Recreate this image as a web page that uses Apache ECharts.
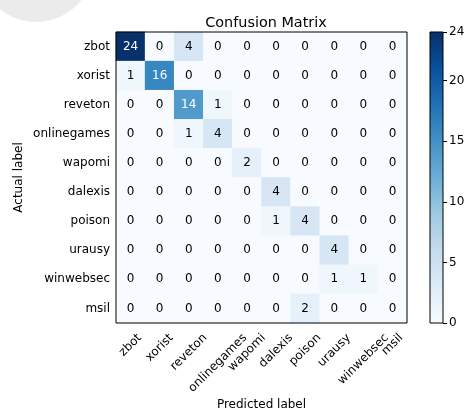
<!DOCTYPE html>
<html>
<head>
<meta charset="utf-8">
<script src="https://cdn.jsdelivr.net/npm/echarts@6/dist/echarts.min.js"></script>
<style>
  html, body { margin: 0; padding: 0; background: #fff; }
  #cm { width: 471px; height: 412px; }
</style>
</head>
<body>
<div id="cm"></div>
<script>
// labels, same order on both axes
var classes = ['zbot', 'xorist', 'reveton', 'onlinegames', 'wapomi', 'dalexis', 'poison', 'urausy', 'winwebsec', 'msil'];

// one row per actual label
var matrix = [
  [24, 0, 4, 0, 0, 0, 0, 0, 0, 0],
  [1, 16, 0, 0, 0, 0, 0, 0, 0, 0],
  [0, 0, 14, 1, 0, 0, 0, 0, 0, 0],
  [0, 0, 1, 4, 0, 0, 0, 0, 0, 0],
  [0, 0, 0, 0, 2, 0, 0, 0, 0, 0],
  [0, 0, 0, 0, 0, 4, 0, 0, 0, 0],
  [0, 0, 0, 0, 0, 1, 4, 0, 0, 0],
  [0, 0, 0, 0, 0, 0, 0, 4, 0, 0],
  [0, 0, 0, 0, 0, 0, 0, 1, 1, 0],
  [0, 0, 0, 0, 0, 0, 2, 0, 0, 0]
];

var colorbarMax = [24];

// matplotlib Blues
var blues = ['#f7fbff', '#deebf7', '#c6dbef', '#9ecae1', '#6baed6', '#4292c6', '#2171b5', '#08519c', '#08306b'];

var vmax = 24;
var heatData = [];
for (var i = 0; i < matrix.length; i++) {
  for (var j = 0; j < matrix[i].length; j++) {
    heatData.push({
      value: [j, i, matrix[i][j]],
      label: { color: matrix[i][j] > vmax / 2 ? '#fff' : '#000' }
    });
  }
}

var stops = blues.map(function (c, k) {
  return { offset: 1 - k / (blues.length - 1), color: c };
});

var font = 'DejaVu Sans';
var chart = echarts.init(document.getElementById('cm'));

var option = {
  animation: false,
  textStyle: { fontFamily: font },
  title: {
    text: 'Confusion Matrix',
    left: 261, top: 11, textAlign: 'center',
    textStyle: { fontFamily: font, fontSize: 14.4, fontWeight: 'normal', color: '#000' }
  },
  grid: [
    { left: 116, top: 32, width: 291, height: 291, outerBoundsMode: 'none' },
    { left: 430, top: 32, width: 13, height: 291, outerBoundsMode: 'none' }
  ],
  xAxis: [
    {
      type: 'category', data: classes, gridIndex: 0,
      name: 'Predicted label', nameLocation: 'middle', nameGap: 76, nameMoveOverlap: false,
      nameTextStyle: { fontFamily: font, fontSize: 12, color: '#000' },
      axisLine: { show: false },
      axisTick: { alignWithLabel: true, length: 4, lineStyle: { color: '#000' } },
      // drawn below, centred under each tick like matplotlib does
      axisLabel: { show: false },
      splitLine: { show: false }
    },
    {
      type: 'category', data: ['cb'], gridIndex: 1, show: false
    }
  ],
  yAxis: [
    {
      type: 'category', data: classes, gridIndex: 0, inverse: true,
      name: 'Actual label', nameLocation: 'middle', nameGap: 91, nameMoveOverlap: false,
      nameTextStyle: { fontFamily: font, fontSize: 12, color: '#000' },
      axisLine: { show: false },
      axisTick: { alignWithLabel: true, length: 4, lineStyle: { color: '#000' } },
      axisLabel: { interval: 0, fontFamily: font, fontSize: 12, color: '#000', margin: 6 },
      splitLine: { show: false }
    },
    {
      type: 'value', gridIndex: 1, position: 'right', min: 0, max: vmax, interval: 5,
      axisLine: { show: false },
      axisTick: { show: true, length: 4, lineStyle: { color: '#000' } },
      axisLabel: { fontFamily: font, fontSize: 12, color: '#000', margin: 6 },
      splitLine: { show: false }
    }
  ],
  visualMap: {
    show: false, seriesIndex: 0, min: 0, max: vmax,
    inRange: { color: blues }
  },
  graphic: [
    { type: 'circle', shape: { cx: 36, cy: -36, r: 58 }, style: { fill: '#ebebeb' }, z: -1 },
    { type: 'rect', shape: { x: 116, y: 32, width: 291, height: 291 }, style: { fill: null, stroke: '#000', lineWidth: 1 }, z: 100 },
    { type: 'rect', shape: { x: 430, y: 32, width: 13, height: 291 }, style: { fill: null, stroke: '#000', lineWidth: 1 }, z: 100 }
  ],
  series: [
    {
      type: 'heatmap', xAxisIndex: 0, yAxisIndex: 0,
      data: heatData,
      label: { show: true, fontFamily: font, fontSize: 12 },
      itemStyle: { borderWidth: 0 },
      emphasis: { disabled: true }
    },
    {
      type: 'bar', xAxisIndex: 1, yAxisIndex: 1,
      data: colorbarMax, barWidth: '100%', silent: true,
      itemStyle: { color: new echarts.graphic.LinearGradient(0, 0, 0, 1, stops) }
    }
  ]
};

chart.setOption(option);

// rotated x tick labels: bounding box centred on the tick, top just under the axis
var ctx = document.createElement('canvas').getContext('2d');
ctx.font = '12px "DejaVu Sans"';
var axisBottom = chart.convertToPixel({ yAxisIndex: 0 }, classes[classes.length - 1]) + 14.55;
var labels = classes.map(function (name, k) {
  var w = ctx.measureText(name).width;
  var half = (w + 14) / (2 * Math.SQRT2);
  return {
    type: 'text',
    x: chart.convertToPixel({ xAxisIndex: 0 }, name),
    y: axisBottom + 8 + half,
    rotation: Math.PI / 4,
    style: { text: name, font: '12px "DejaVu Sans"', fill: '#000', align: 'center', verticalAlign: 'middle' }
  };
});
chart.setOption({ graphic: option.graphic.concat(labels) });
</script>
</body>
</html>
